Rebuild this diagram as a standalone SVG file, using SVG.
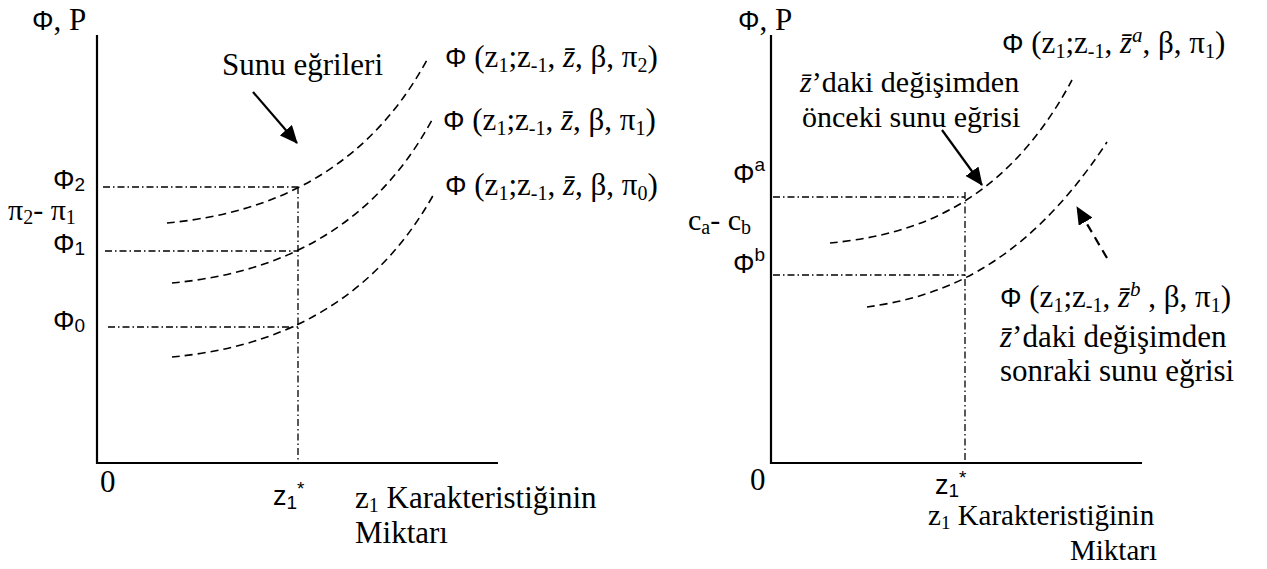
<svg xmlns="http://www.w3.org/2000/svg" width="1267" height="569" viewBox="0 0 1267 569">
<style>
.s{font-family:"Liberation Serif","Times New Roman",serif;font-size:31px;fill:#000}
.s30{font-size:30px}
.s29{font-size:29px}
.a{font-family:"Liberation Sans",Arial,sans-serif;fill:#000}
.ph{font-size:27px}
.i{font-style:italic}
.axis{stroke:#000;stroke-width:2.2;fill:none}
.curve{stroke:#000;stroke-width:1.6;fill:none;stroke-dasharray:8 5}
.dd{stroke:#000;stroke-width:1.3;fill:none;stroke-dasharray:7 3 1.5 3}
.arr{stroke:#000;stroke-width:2.2;fill:none;marker-end:url(#ah)}
.arrd{stroke:#000;stroke-width:2.2;fill:none;stroke-dasharray:9 6;marker-end:url(#ah)}
</style>
<defs>
<marker id="ah" markerUnits="userSpaceOnUse" markerWidth="18" markerHeight="16" refX="17" refY="8" orient="auto">
<path d="M0,0 L18,8 L0,16 z" fill="#000"/>
</marker>
</defs>
<rect width="1267" height="569" fill="#fff"/>

<g id="left-chart">
  <g id="left-axes">
    <path class="axis" d="M97,35 V463 H498"/>
  </g>
  <g id="left-connectors">
    <path class="dd" d="M103,187 H298"/>
    <path class="dd" d="M105,251 H298"/>
    <path class="dd" d="M108,327 H298"/>
    <path class="dd" d="M298,187 V463"/>
    <path class="curve" d="M167,223 C250,215 360,185 428,58"/>
    <path class="curve" d="M172,283 C255,275 365,245 433,118"/>
    <path class="curve" d="M172,357 C255,349 365,319 435,192"/>
    <path class="arr" d="M253,92 L297,143"/>
  </g>
  <g id="left-labels">
    <text x="32" y="30" class="s"><tspan class="a ph">Φ</tspan>, P</text>
    <text x="222" y="75" class="s">Sunu eğrileri</text>
    <text x="445" y="67" class="s"><tspan class="a ph">Φ</tspan> (z<tspan font-size="20" dy="5">1</tspan><tspan dy="-5">;z</tspan><tspan font-size="20" dy="5">-1</tspan><tspan dy="-5">, </tspan><tspan class="i">z̄</tspan>, β, π<tspan font-size="20" dy="5">2</tspan><tspan dy="-5">)</tspan></text>
    <text x="443" y="130" class="s"><tspan class="a ph">Φ</tspan> (z<tspan font-size="20" dy="5">1</tspan><tspan dy="-5">;z</tspan><tspan font-size="20" dy="5">-1</tspan><tspan dy="-5">, </tspan><tspan class="i">z̄</tspan>, β, π<tspan font-size="20" dy="5">1</tspan><tspan dy="-5">)</tspan></text>
    <text x="445" y="195" class="s"><tspan class="a ph">Φ</tspan> (z<tspan font-size="20" dy="5">1</tspan><tspan dy="-5">;z</tspan><tspan font-size="20" dy="5">-1</tspan><tspan dy="-5">, </tspan><tspan class="i">z̄</tspan>, β, π<tspan font-size="20" dy="5">0</tspan><tspan dy="-5">)</tspan></text>
    <text x="53" y="189" class="a ph">Φ<tspan font-size="19" dy="2">2</tspan></text>
    <text x="8" y="220" class="s s30">π<tspan font-size="20" dy="4">2</tspan><tspan dy="-4">- π</tspan><tspan font-size="20" dy="4">1</tspan></text>
    <text x="53" y="253" class="a ph">Φ<tspan font-size="19" dy="2">1</tspan></text>
    <text x="53" y="330" class="a ph">Φ<tspan font-size="19" dy="2">0</tspan></text>
    <text x="100" y="492" class="s">0</text>
    <text x="273" y="505" class="a ph">z<tspan font-size="19" dy="4">1</tspan><tspan font-size="19" dy="-14">*</tspan></text>
    <text x="355" y="508" class="s">z<tspan font-size="20" dy="4">1</tspan><tspan dy="-4"> Karakteristiğinin</tspan></text>
    <text x="355" y="543" class="s">Miktarı</text>
  </g>
</g>

<g id="right-chart">
  <g id="right-axes">
    <path class="axis" d="M771,35 V463 H1142"/>
  </g>
  <g id="right-connectors">
    <path class="dd" d="M773,197 H965"/>
    <path class="dd" d="M773,275 H965"/>
    <path class="dd" d="M965,192 V463"/>
    <path class="curve" d="M830,243 C900,236 1000,215 1072,80"/>
    <path class="curve" d="M867,307 C930,298 1020,275 1107,142"/>
    <path class="arr" d="M942,130 L982,185"/>
    <path class="arrd" d="M1107,258 L1077,207"/>
  </g>
  <g id="right-labels">
    <text x="738" y="30" class="s"><tspan class="a ph">Φ</tspan>, P</text>
    <text x="1002" y="53" class="s"><tspan class="a ph">Φ</tspan> (z<tspan font-size="20" dy="5">1</tspan><tspan dy="-5">;z</tspan><tspan font-size="20" dy="5">-1</tspan><tspan dy="-5">, </tspan><tspan class="i">z̄</tspan><tspan class="i" font-size="21" dy="-11">a</tspan><tspan dy="11">, β, π</tspan><tspan font-size="20" dy="5">1</tspan><tspan dy="-5">)</tspan></text>
    <text x="800" y="92" class="s s30"><tspan class="i">z̄</tspan>’daki değişimden</text>
    <text x="802" y="127" class="s s30">önceki sunu eğrisi</text>
    <text x="733" y="183" class="a ph">Φ<tspan font-size="19" dy="-12">a</tspan></text>
    <text x="688" y="230" class="s s30">c<tspan font-size="20" dy="4">a</tspan><tspan dy="-4">- c</tspan><tspan font-size="20" dy="4">b</tspan></text>
    <text x="733" y="273" class="a ph">Φ<tspan font-size="19" dy="-12">b</tspan></text>
    <text x="1000" y="307" class="s"><tspan class="a ph">Φ</tspan> (z<tspan font-size="20" dy="5">1</tspan><tspan dy="-5">;z</tspan><tspan font-size="20" dy="5">-1</tspan><tspan dy="-5">, </tspan><tspan class="i">z̄</tspan><tspan class="i" font-size="21" dy="-11">b</tspan><tspan dy="11"> , β, π</tspan><tspan font-size="20" dy="5">1</tspan><tspan dy="-5">)</tspan></text>
    <text x="1000" y="347" class="s"><tspan class="i">z̄</tspan>’daki değişimden</text>
    <text x="1000" y="381" class="s">sonraki sunu eğrisi</text>
    <text x="750" y="490" class="s">0</text>
    <text x="935" y="494" class="a ph">z<tspan font-size="19" dy="3">1</tspan><tspan font-size="19" dy="-13">*</tspan></text>
    <text x="928" y="525" class="s s29">z<tspan font-size="19" dy="4">1</tspan><tspan dy="-4"> Karakteristiğinin</tspan></text>
    <text x="1157" y="560" class="s s29" text-anchor="end">Miktarı</text>
  </g>
</g>
</svg>
